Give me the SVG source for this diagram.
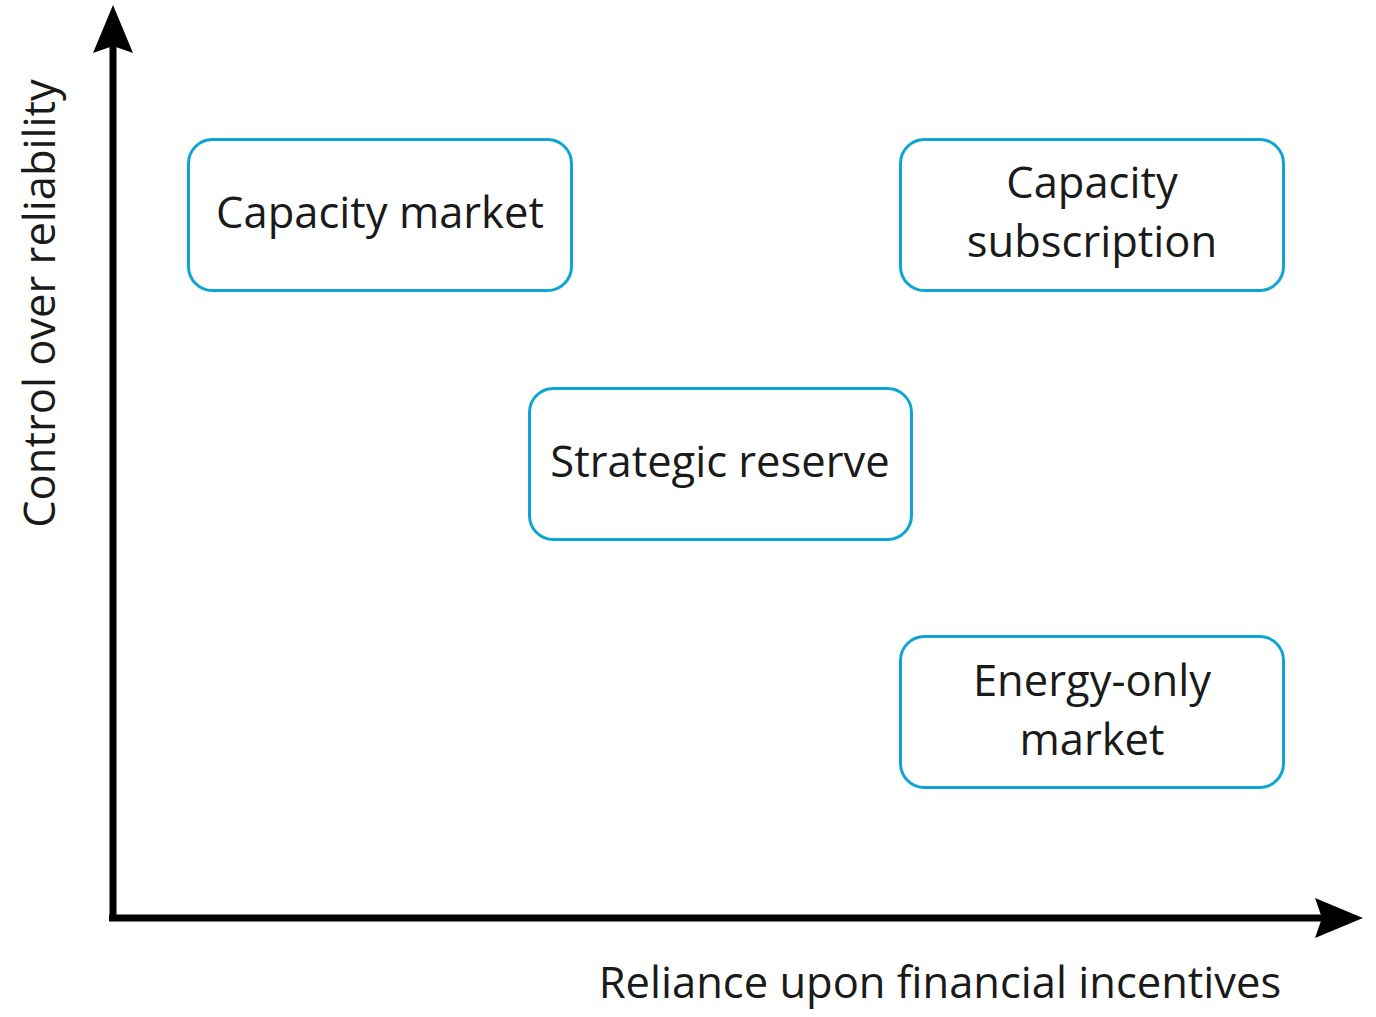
<svg xmlns="http://www.w3.org/2000/svg" width="1376" height="1017" viewBox="0 0 1376 1017">
<style>
.box{fill:#ffffff;stroke:#0ea5d6;stroke-width:3}
.t{font-family:"Open Sans",sans-serif;font-size:43.5px;fill:#1a1a1a;text-anchor:middle}
.ax{stroke:#000;stroke-width:7;fill:none}
</style>
<rect width="1376" height="1017" fill="#ffffff"/>
<g id="connectors">
<path class="ax" d="M113,918 V45"/>
<path class="ax" d="M109,918 H1325"/>
<path d="M113,5 L133,53 L113,46 L93,53 Z" fill="#000"/>
<path d="M1363,918 L1315,938 L1322,918 L1315,898 Z" fill="#000"/>
</g>
<g id="node-capacity-market">
<rect class="box" x="188.5" y="139.5" width="383" height="151" rx="24"/>
<text class="t" x="380" y="228">Capacity market</text>
</g>
<g id="node-capacity-subscription">
<rect class="box" x="900.5" y="139.5" width="383" height="151" rx="24"/>
<text class="t" x="1092" y="198">Capacity</text>
<text class="t" x="1092" y="257">subscription</text>
</g>
<g id="node-strategic-reserve">
<rect class="box" x="529.5" y="388.5" width="382" height="151" rx="24"/>
<text class="t" x="720" y="477">Strategic reserve</text>
</g>
<g id="node-energy-only">
<rect class="box" x="900.5" y="636.5" width="383" height="151" rx="24"/>
<text class="t" x="1092" y="696">Energy-only</text>
<text class="t" x="1092" y="755">market</text>
</g>
<g id="axis-labels">
<text class="t" x="940" y="998">Reliance upon financial incentives</text>
<text class="t" transform="translate(55,303.5) rotate(-90)" x="0" y="0">Control over reliability</text>
</g>
</svg>
